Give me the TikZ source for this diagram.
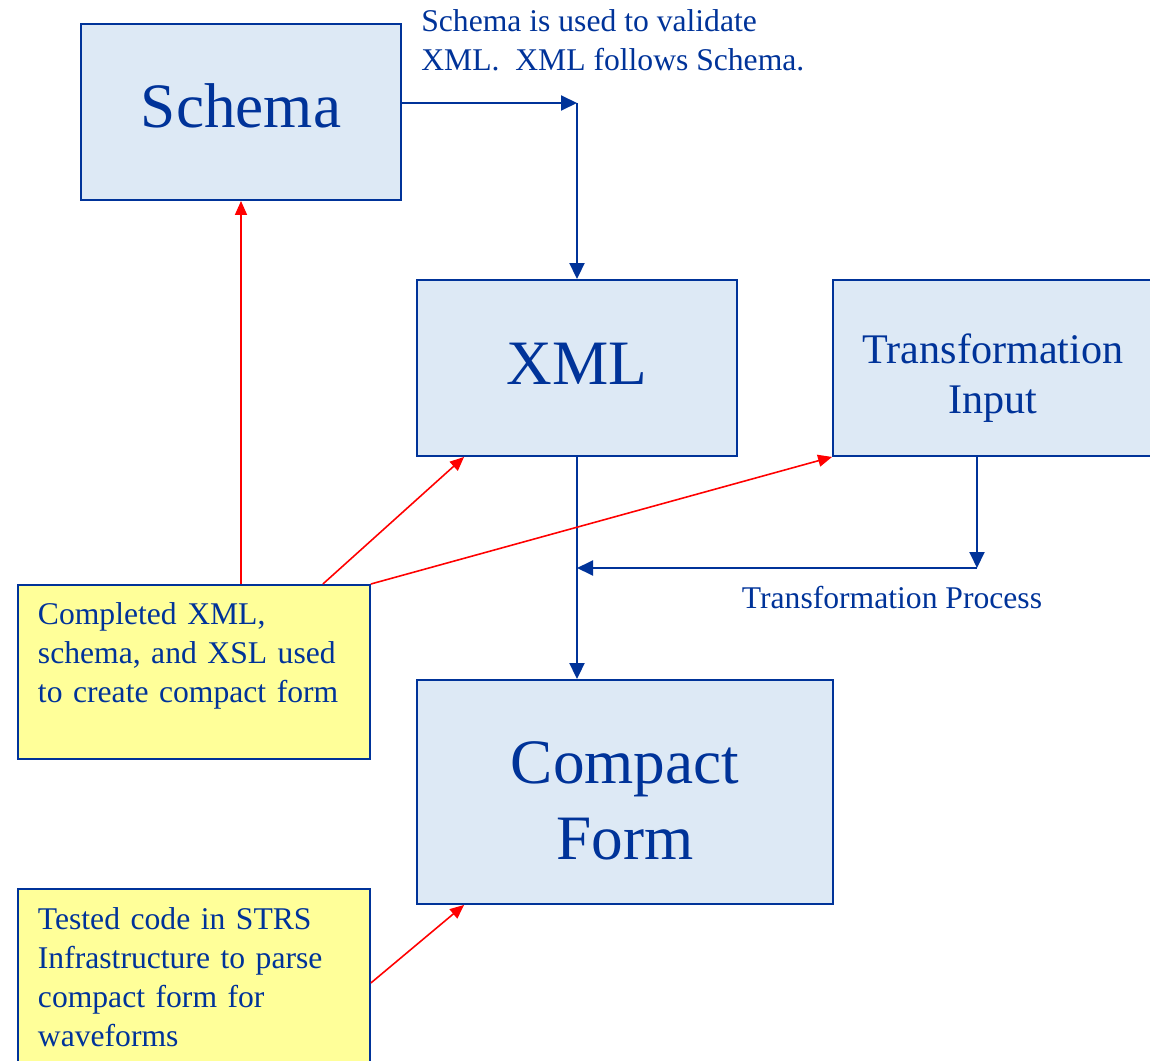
\documentclass[tikz,border=0pt]{standalone}
\usepackage{fontspec}
\setmainfont{Liberation Serif}
\usetikzlibrary{arrows.meta}

\definecolor{darkblue}{RGB}{0,51,153}
\definecolor{paleblue}{RGB}{221,233,245}
\definecolor{paleyellow}{RGB}{255,255,153}

\tikzstyle{bigbox} = [rectangle, draw=darkblue, fill=paleblue, line width=1.1pt,
text=darkblue, align=center, inner sep=0pt]
\tikzstyle{notebox} = [rectangle, draw=darkblue, fill=paleyellow, line width=1.1pt,
text=darkblue, align=left, anchor=north west, inner xsep=0.4cm, inner ysep=0pt,
minimum width=7.04cm, text width=6.24cm, font=\fontsize{18}{22.2}\selectfont]
\tikzstyle{plaintext} = [text=darkblue, align=left, inner sep=0pt, font=\fontsize{18}{22.2}\selectfont]
\tikzstyle{bluearrow} = [draw=darkblue, line width=1.1pt, -{Triangle[length=0.32cm, width=0.3cm]}]
\tikzstyle{redarrow} = [draw=red, line width=0.9pt, -{Triangle[length=0.28cm, width=0.24cm]}]

\begin{document}
\begin{tikzpicture}[x=0.02cm, y=-0.02cm]
			\useasboundingbox (0,0) rectangle (1150,1061);
			
			\node (schema) [bigbox, minimum width=6.4cm, minimum height=3.52cm, text height=0.64cm, text depth=0pt, font=\fontsize{36}{42}\selectfont] at (241,112) {Schema};
			\node (xml) [bigbox, minimum width=6.4cm, minimum height=3.52cm, text height=0.68cm, text depth=0pt, font=\fontsize{36}{42}\selectfont] at (577,368) {XML};
			\node (transin) [bigbox, minimum width=6.4cm, minimum height=3.52cm, font=\fontsize{24}{29}\selectfont] at (993,368) {\rule{0pt}{1cm}Transformation\\Input};
			\node (compact) [bigbox, minimum width=8.32cm, minimum height=4.48cm, font=\fontsize{36}{43}\selectfont] at (625,792) {\rule{0pt}{1.2cm}Compact\\Form};
			\node (made) [notebox, minimum height=3.48cm] at (17,584) {Completed XML,\\schema, and XSL used\\to create compact form\\\mbox{}};
			\node (tested) [notebox, minimum height=3.52cm] at (17,888) {Tested code in STRS\\Infrastructure to parse\\compact form for\\waveforms};
			\node (valnote) [plaintext, anchor=north west] at (421,9) {Schema is used to validate\\XML.~ XML follows Schema.};
			\node (tplabel) [plaintext] at (892,598) {Transformation Process};
			
			\coordinate (valid) at (577,103);
			\coordinate (tpright) at (977,568);
			\coordinate (tpleft) at (577,568);
			
			\draw [bluearrow] (schema.east |- valid) -- (valid);
			\draw [bluearrow] (valid) -- (xml.north);
			\draw [bluearrow] (xml.south) -- (xml.south |- compact.north);
			\draw [bluearrow] (transin.south -| tpright) -- (tpright);
			\draw [bluearrow] (tpright) -- (tpleft);
			
			\draw [redarrow] (schema.south |- made.north) -- (schema.south);
			\draw [redarrow] ([xshift=2.58cm]made.north) -- ([xshift=0.96cm]xml.south west);
			\draw [redarrow] (made.north east) -- (transin.south west);
			\draw [redarrow] ([yshift=-1.9cm]tested.north east) -- ([xshift=0.96cm]compact.south west);
			
		\end{tikzpicture}
\end{document}
